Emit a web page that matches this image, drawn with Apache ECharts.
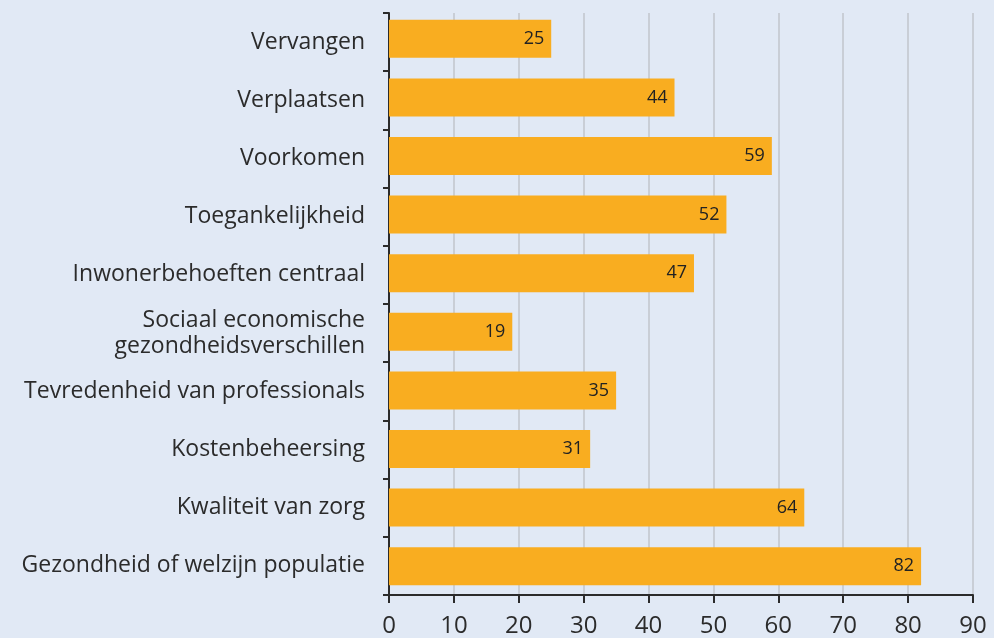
<!DOCTYPE html>
<html><head><meta charset="utf-8">
<script src="https://cdn.jsdelivr.net/npm/echarts@6/dist/echarts.min.js"></script>
<style>html,body{margin:0;padding:0;background:#e1e9f5;}#c{width:994px;height:638px;}</style>
</head><body><div id="c"></div>
<script>
const categories = ["Vervangen","Verplaatsen","Voorkomen","Toegankelijkheid","Inwonerbehoeften centraal","Sociaal economische\ngezondheidsverschillen","Tevredenheid van professionals","Kostenbeheersing","Kwaliteit van zorg","Gezondheid of welzijn populatie"];
const values = [25,44,59,52,47,19,35,31,64,82];
const xTicks = [0,10,20,30,40,50,60,70,80,90];
const chart = echarts.init(document.getElementById('c'));
const xMin = xTicks[0], xMax = xTicks[xTicks.length-1];
chart.setOption({
  backgroundColor:'#e1e9f5',
  animation:false,
  grid:[{left:389,right:21,top:13,bottom:41,containLabel:false},
        {left:389,right:21,top:9.5,bottom:42.5,containLabel:false}],
  xAxis:[{type:'value',gridIndex:0,min:xMin,max:xMax,interval:10,
    axisLine:{show:true,lineStyle:{color:'#2b2b2b',width:2}},
    axisTick:{show:true,length:8,lineStyle:{color:'#2b2b2b',width:2}},
    axisLabel:{color:'#2b2b2b',fontSize:24,fontFamily:'Open Sans',margin:19},
    splitLine:{show:true,lineStyle:{color:'#c9ced6',width:2}}},
    {type:'value',gridIndex:1,min:xMin,max:xMax,interval:10,show:false,splitLine:{show:false}}],
  yAxis:[{type:'category',gridIndex:0,data:categories,inverse:true,
    axisLine:{show:true,lineStyle:{color:'#2b2b2b',width:2}},
    axisTick:{show:true,length:6,lineStyle:{color:'#2b2b2b',width:2}},
    axisLabel:{color:'#2b2b2b',fontSize:23,fontFamily:'Open Sans',margin:24,lineHeight:26,align:'right'}},
    {type:'category',gridIndex:1,data:categories,inverse:true,show:false}],
  series:[{type:'bar',xAxisIndex:1,yAxisIndex:1,data:values,barWidth:38,itemStyle:{color:'#f9ad20'},
    label:{show:true,position:'insideRight',color:'#222',fontSize:18,fontFamily:'Open Sans',distance:7}}]
});
</script></body></html>
